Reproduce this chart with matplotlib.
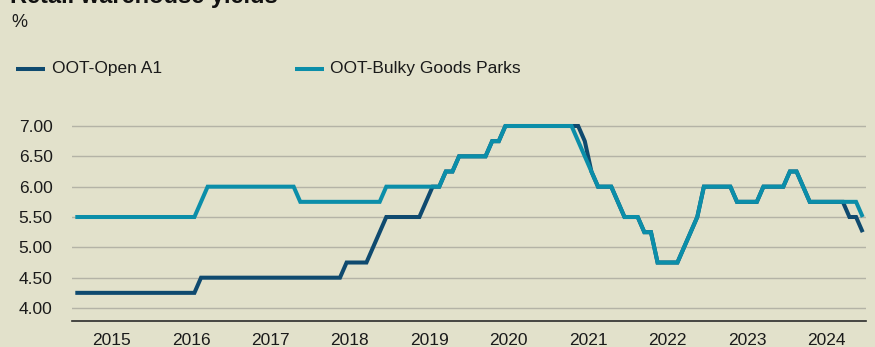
import matplotlib
matplotlib.use("Agg")
import matplotlib.pyplot as plt
import numpy as np

# Monthly yields (%), Jan 2015 - Dec 2024
years = list(range(2015, 2025))
open_a1 = [
    4.25, 4.25, 4.25, 4.25, 4.25, 4.25, 4.25, 4.25, 4.25, 4.25, 4.25, 4.25,
    4.25, 4.25, 4.25, 4.25, 4.25, 4.25, 4.25, 4.50, 4.50, 4.50, 4.50, 4.50,
    4.50, 4.50, 4.50, 4.50, 4.50, 4.50, 4.50, 4.50, 4.50, 4.50, 4.50, 4.50,
    4.50, 4.50, 4.50, 4.50, 4.50, 4.75, 4.75, 4.75, 4.75, 5.00, 5.25, 5.50,
    5.50, 5.50, 5.50, 5.50, 5.50, 5.75, 6.00, 6.00, 6.25, 6.25, 6.50, 6.50,
    6.50, 6.50, 6.50, 6.75, 6.75, 7.00, 7.00, 7.00, 7.00, 7.00, 7.00, 7.00,
    7.00, 7.00, 7.00, 7.00, 7.00, 6.75, 6.25, 6.00, 6.00, 6.00, 5.75, 5.50,
    5.50, 5.50, 5.25, 5.25, 4.75, 4.75, 4.75, 4.75, 5.00, 5.25, 5.50, 6.00,
    6.00, 6.00, 6.00, 6.00, 5.75, 5.75, 5.75, 5.75, 6.00, 6.00, 6.00, 6.00,
    6.25, 6.25, 6.00, 5.75, 5.75, 5.75, 5.75, 5.75, 5.75, 5.50, 5.50, 5.25,
]
bulky_goods = [
    5.50, 5.50, 5.50, 5.50, 5.50, 5.50, 5.50, 5.50, 5.50, 5.50, 5.50, 5.50,
    5.50, 5.50, 5.50, 5.50, 5.50, 5.50, 5.50, 5.75, 6.00, 6.00, 6.00, 6.00,
    6.00, 6.00, 6.00, 6.00, 6.00, 6.00, 6.00, 6.00, 6.00, 6.00, 5.75, 5.75,
    5.75, 5.75, 5.75, 5.75, 5.75, 5.75, 5.75, 5.75, 5.75, 5.75, 5.75, 6.00,
    6.00, 6.00, 6.00, 6.00, 6.00, 6.00, 6.00, 6.00, 6.25, 6.25, 6.50, 6.50,
    6.50, 6.50, 6.50, 6.75, 6.75, 7.00, 7.00, 7.00, 7.00, 7.00, 7.00, 7.00,
    7.00, 7.00, 7.00, 7.00, 6.75, 6.50, 6.25, 6.00, 6.00, 6.00, 5.75, 5.50,
    5.50, 5.50, 5.25, 5.25, 4.75, 4.75, 4.75, 4.75, 5.00, 5.25, 5.50, 6.00,
    6.00, 6.00, 6.00, 6.00, 5.75, 5.75, 5.75, 5.75, 6.00, 6.00, 6.00, 6.00,
    6.25, 6.25, 6.00, 5.75, 5.75, 5.75, 5.75, 5.75, 5.75, 5.75, 5.75, 5.50,
]
y_ticks = [4.0, 4.5, 5.0, 5.5, 6.0, 6.5, 7.0]

BG = "#e2e1cb"
DARK = "#0f4a6f"
LIGHT = "#0b8ea9"
FONT = "Liberation Sans"

# month midpoints as fractional years
t = np.array([y + (m + 0.5) / 12 for y in years for m in range(12)])

W, H = 875, 347
fig = plt.figure(figsize=(W / 100, H / 100), dpi=100, facecolor=BG)

ymin, ymax = 3.786, 7.2
left_px, right_px, bottom_px = 72, 866, 321
top_px = 126 - (ymax - 7.0) * (182 / 3)
ax = fig.add_axes([left_px / W, (H - bottom_px) / H,
                   (right_px - left_px) / W, (bottom_px - top_px) / H])
ax.set_facecolor(BG)

ax.plot(t, open_a1, color=DARK, lw=2.9, solid_joinstyle="miter",
        solid_capstyle="butt", zorder=3, label="OOT-Open A1", clip_on=False)
ax.plot(t, bulky_goods, color=LIGHT, lw=2.9, solid_joinstyle="miter",
        solid_capstyle="butt", zorder=4, label="OOT-Bulky Goods Parks", clip_on=False)

ax.set_xlim(2015, 2025)
ax.set_ylim(ymin, ymax)

ax.set_yticks(y_ticks)
ax.set_yticklabels([f"{v:.2f}" for v in y_ticks], fontsize=12.5,
                   fontfamily=FONT, color="#1a1a1a")
ax.set_xticks([y + 0.5 for y in years])
ax.set_xticklabels([str(y) for y in years], fontsize=12.5,
                   fontfamily=FONT, color="#1a1a1a")
ax.tick_params(axis="both", length=0)
ax.tick_params(axis="y", pad=14)
ax.tick_params(axis="x", pad=8.5)

ax.grid(axis="y", color="#b4b3a6", lw=1.0)
ax.set_axisbelow(True)
for side in ("top", "right", "left"):
    ax.spines[side].set_visible(False)
ax.spines["bottom"].set_color("#2b2b2b")
ax.spines["bottom"].set_linewidth(1.2)

# Title, unit and legend
fig.text(10 / W, 1 - 3.3 / H, "Retail warehouse yields", fontsize=17,
         fontweight="bold", fontfamily=FONT, color="#111111",
         ha="left", va="baseline")
fig.text(11 / W, 1 - 27 / H, "%", fontsize=13, fontfamily=FONT,
         color="#1a1a1a", ha="left", va="baseline")

legend_items = [(16, 52, DARK, "OOT-Open A1"),
                (295, 330, LIGHT, "OOT-Bulky Goods Parks")]
for x0, xt, col, lab in legend_items:
    fig.add_artist(plt.Line2D([x0 / W, (x0 + 29) / W], [1 - 69 / H] * 2,
                              color=col, lw=2.9, solid_capstyle="butt"))
    fig.text(xt / W, 1 - 69 / H, lab, fontsize=12.5, fontfamily=FONT,
             color="#1a1a1a", ha="left", va="center")

fig.savefig("out.png", dpi=100, facecolor=BG)
